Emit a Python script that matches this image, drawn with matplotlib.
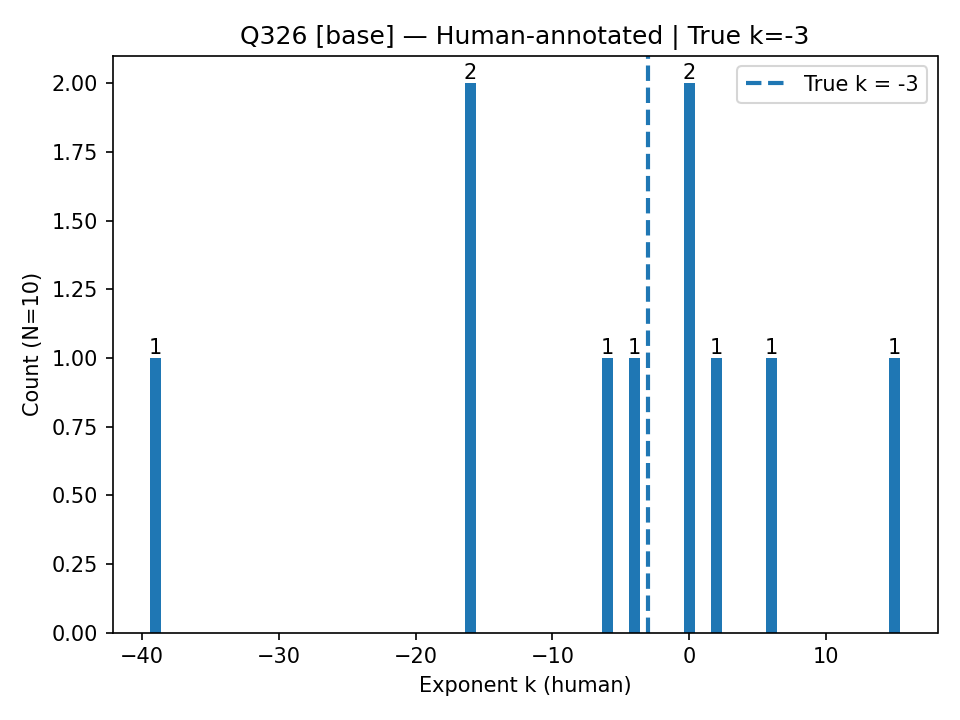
import matplotlib
matplotlib.use("Agg")
import matplotlib.pyplot as plt

ks = [-39, -16, -6, -4, 0, 2, 6, 15]
counts = [1, 2, 1, 1, 2, 1, 1, 1]
true_k = -3

fig, ax = plt.subplots(figsize=(6.4, 4.8))
bars = ax.bar(ks, counts, width=0.8, color="#1f77b4")
ax.bar_label(bars, labels=[str(c) for c in counts])
ax.axvline(true_k, linestyle="--", linewidth=2, color="#1f77b4", label=f"True k = {true_k}")
ax.set_xlabel("Exponent k (human)")
ax.set_ylabel("Count (N=10)")
ax.set_title("Q326 [base] — Human-annotated | True k=-3")
ax.set_yticks([0, 0.25, 0.5, 0.75, 1.0, 1.25, 1.5, 1.75, 2.0])
ax.set_yticklabels([f"{v:.2f}" for v in ax.get_yticks()])
ax.set_ylim(0, 2.1)
ax.legend(loc="upper right")
fig.tight_layout()
fig.savefig("out.png", dpi=150)
